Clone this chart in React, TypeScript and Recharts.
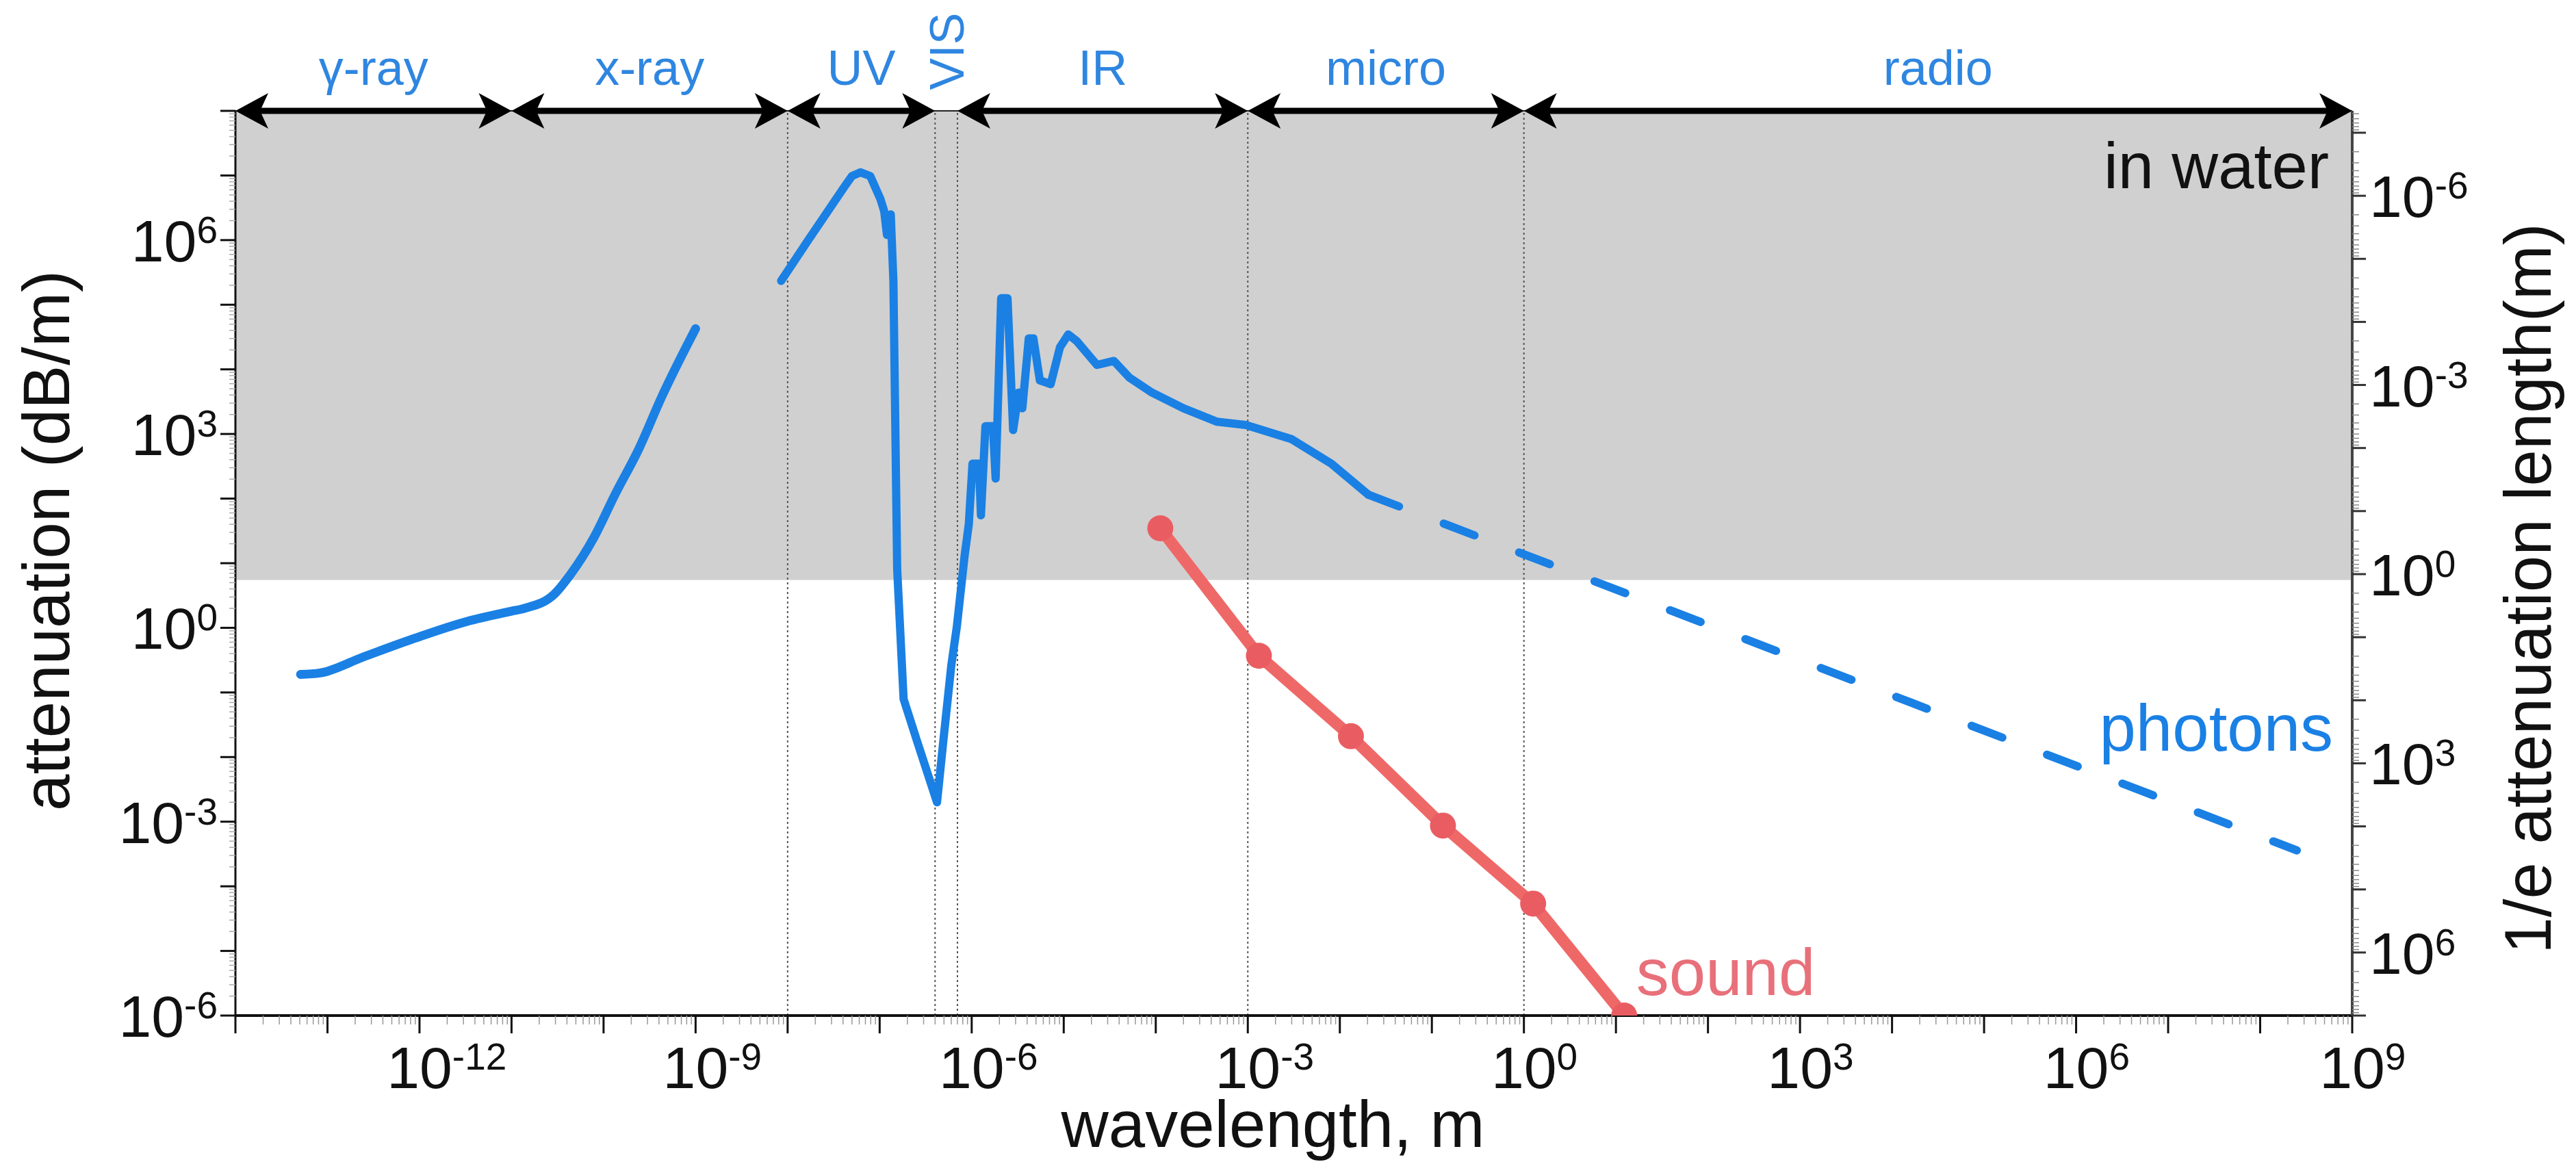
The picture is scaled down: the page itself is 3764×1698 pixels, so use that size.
import React from 'react';
import {
  ComposedChart,
  Line,
  XAxis,
  YAxis,
  ReferenceArea,
  ReferenceLine,
  ReferenceDot,
} from 'recharts';

const W = 3764;
const H = 1698;
const FONT = '"Liberation Sans", Arial, Helvetica, sans-serif';
const BLUE = '#1a80e4';
const LABEL_BLUE = '#2f86e0';
const RED = '#ef6868';

// photon attenuation in water (dB/m) against wavelength (m)
const photonsHighEnergy = [
  { wl: 5.1e-14, att: 0.19 },
  { wl: 8.3e-14, att: 0.2 },
  { wl: 2.4e-13, att: 0.35 },
  { wl: 8.9e-13, att: 0.69 },
  { wl: 3.3e-12, att: 1.26 },
  { wl: 9.8e-12, att: 1.8 },
  { wl: 1.38e-11, att: 2.0 },
  { wl: 2.9e-11, att: 3.3 },
  { wl: 4.4e-11, att: 6.8 },
  { wl: 7.8e-11, att: 24.5 },
  { wl: 1.35e-10, att: 120 },
  { wl: 2.4e-10, att: 575 },
  { wl: 4.3e-10, att: 3800 },
  { wl: 1.0e-9, att: 42700 },
];

const photonsUvToMicro = [
  { wl: 8.5e-9, att: 2.34e5 },
  { wl: 1.66e-8, att: 9.8e5 },
  { wl: 4.2e-8, att: 6.9e6 },
  { wl: 5.0e-8, att: 9.8e6 },
  { wl: 6.2e-8, att: 1.12e7 },
  { wl: 7.9e-8, att: 9.8e6 },
  { wl: 1.02e-7, att: 4.3e6 },
  { wl: 1.12e-7, att: 2.8e6 },
  { wl: 1.2e-7, att: 1.2e6 },
  { wl: 1.32e-7, att: 2.5e6 },
  { wl: 1.41e-7, att: 2.34e5 },
  { wl: 1.55e-7, att: 8.1 },
  { wl: 1.82e-7, att: 0.079 },
  { wl: 2.57e-7, att: 0.017 },
  { wl: 4.2e-7, att: 0.002 },
  { wl: 4.9e-7, att: 0.017 },
  { wl: 6.0e-7, att: 0.26 },
  { wl: 6.9e-7, att: 1.05 },
  { wl: 8.4e-7, att: 13.5 },
  { wl: 9.3e-7, att: 40 },
  { wl: 1.02e-6, att: 347 },
  { wl: 1.2e-6, att: 347 },
  { wl: 1.26e-6, att: 55 },
  { wl: 1.41e-6, att: 1320 },
  { wl: 1.7e-6, att: 1320 },
  { wl: 1.82e-6, att: 204 },
  { wl: 2.09e-6, att: 1.26e5 },
  { wl: 2.45e-6, att: 1.26e5 },
  { wl: 2.82e-6, att: 1150 },
  { wl: 3.24e-6, att: 4370 },
  { wl: 3.55e-6, att: 2500 },
  { wl: 4.17e-6, att: 30200 },
  { wl: 4.68e-6, att: 30200 },
  { wl: 5.5e-6, att: 6760 },
  { wl: 7.2e-6, att: 5890 },
  { wl: 9.1e-6, att: 21900 },
  { wl: 1.12e-5, att: 34700 },
  { wl: 1.38e-5, att: 27500 },
  { wl: 2.3e-5, att: 11700 },
  { wl: 3.5e-5, att: 13500 },
  { wl: 5.2e-5, att: 7400 },
  { wl: 9.1e-5, att: 4370 },
  { wl: 2.0e-4, att: 2500 },
  { wl: 4.6e-4, att: 1550 },
  { wl: 9.5e-4, att: 1380 },
  { wl: 3.0e-3, att: 830 },
  { wl: 8.1e-3, att: 347 },
  { wl: 2.04e-2, att: 115 },
];

const photonsRadio = [
  { wl: 2.04e-2, att: 115 },
  { wl: 2.5e8, att: 3.6e-4 },
];

const sound = [
  { wl: 1.12e-4, att: 34.7 },
  { wl: 1.32e-3, att: 0.37 },
  { wl: 1.32e-2, att: 0.021 },
  { wl: 0.132, att: 8.7e-4 },
  { wl: 1.26, att: 5.4e-5 },
  { wl: 12.3, att: 1e-6 },
];

// spectral bands along the top
const bandEdges = [1e-14, 1e-11, 1e-8, 4e-7, 7e-7, 1e-3, 1, 1e9];
const bandNames = ['γ-ray', 'x-ray', 'UV', 'VIS', 'IR', 'micro', 'radio'];
const dividers = [1e-8, 4e-7, 7e-7, 1e-3, 1];

// attenuation above this is shorter than 1 m attenuation length
const grayFloor = 5.5;

const xDomain = [1e-14, 1e9];
const yDomain = [1e-6, 1e8];
const rightDomain = [4.5e-8, 1e7];
const labelledX = [-12, -9, -6, -3, 0, 3, 6, 9];
const labelledY = [-6, -3, 0, 3, 6];

function logTicks(lo: number, hi: number) {
  const out: number[] = [];
  for (let e = lo; e <= hi; e++) {
    out.push(Number((10 ** e).toPrecision(6)));
    if (e < hi) for (let m = 2; m <= 9; m++) out.push(Number((m * 10 ** e).toPrecision(6)));
  }
  return out;
}

const xTicks = logTicks(-14, 9);
const yTicks = logTicks(-6, 8);
const rightTicks = logTicks(-8, 7).filter((v) => v >= rightDomain[0] && v <= rightDomain[1]);

function decade(v: number) {
  const lg = Math.log10(v);
  const e = Math.round(lg);
  return { e, major: Math.abs(lg - e) < 1e-6 };
}

const Pow = ({ e }: { e: number }) => (
  <>
    <tspan>10</tspan>
    <tspan dy={-27} fontSize={55}>{String(e)}</tspan>
  </>
);

const XTick = (p: any) => {
  const { x, y } = p;
  const { e, major } = decade(p.payload.value);
  return (
    <g>
      <line x1={x} x2={x} y1={y} y2={y + (major ? 26 : 13)} stroke={major ? '#111' : '#999'} strokeWidth={major ? 3 : 1.5} />
      {major && labelledX.includes(e) && (
        <text x={x - 47.8} y={y + 106} fontSize={86} fontFamily={FONT} fill="#111">
          <Pow e={e} />
        </text>
      )}
    </g>
  );
};

const LeftTick = (p: any) => {
  const { x, y } = p;
  const { e, major } = decade(p.payload.value);
  return (
    <g>
      <line x1={x - (major ? 22 : 9)} x2={x} y1={y} y2={y} stroke={major ? '#111' : '#aaa'} strokeWidth={major ? 3 : 1.5} />
      {major && labelledY.includes(e) && (
        <text x={x - 26} y={y + 31} fontSize={86} fontFamily={FONT} fill="#111" textAnchor="end">
          <Pow e={e} />
        </text>
      )}
    </g>
  );
};

const RightTick = (p: any) => {
  const { x, y } = p;
  const { e, major } = decade(p.payload.value);
  return (
    <g>
      <line x1={x} x2={x + (major ? 20 : 10)} y1={y} y2={y} stroke={major ? '#333' : '#888'} strokeWidth={major ? 3 : 1.5} />
      {major && labelledY.includes(e) && (
        <text x={x + 25} y={y + 31} fontSize={86} fontFamily={FONT} fill="#111">
          <Pow e={e} />
        </text>
      )}
    </g>
  );
};

function head(tx: number, ty: number, dir: number) {
  return `M${tx},${ty} L${tx - 48 * dir},${ty - 26} L${tx - 36 * dir},${ty} L${tx - 48 * dir},${ty + 26} Z`;
}

const bandShape = (name: string) => (p: any) => {
  const { x1, x2, y1 } = p;
  const mid = (x1 + x2) / 2;
  if (name === 'VIS') {
    return (
      <text
        x={0}
        y={0}
        transform={`translate(${mid + 25},${y1 - 87}) rotate(-90)`}
        textAnchor="middle"
        fontSize={70}
        fontFamily={FONT}
        fill={LABEL_BLUE}
      >
        {name}
      </text>
    );
  }
  return (
    <g>
      <line x1={x1 + 30} x2={x2 - 30} y1={y1} y2={y1} stroke="#000" strokeWidth={9} />
      <path d={head(x1, y1, -1)} fill="#000" />
      <path d={head(x2, y1, 1)} fill="#000" />
      <text x={mid} y={y1 - 38} textAnchor="middle" fontSize={72} fontFamily={FONT} fill={LABEL_BLUE}>
        {name}
      </text>
    </g>
  );
};

const note = (text: string, color: string, anchor: 'start' | 'end', size: number) => (p: any) => (
  <text x={p.cx} y={p.cy} textAnchor={anchor} fontSize={size} fontFamily={FONT} fill={color}>
    {text}
  </text>
);

export default function App() {
  return (
    <div style={{ position: 'absolute', left: 0, top: 0, width: W, height: H, background: '#fff' }}>
      <ComposedChart width={W} height={H} margin={{ top: 162, right: 127, bottom: 64, left: 144 }}>
        <XAxis
          dataKey="wl"
          type="number"
          scale="log"
          domain={xDomain}
          allowDataOverflow
          ticks={xTicks}
          interval={0}
          tickSize={0}
          tickMargin={0}
          tickLine={false}
          tick={XTick}
          height={150}
          axisLine={{ stroke: '#111', strokeWidth: 4 }}
        />
        <YAxis
          yAxisId="left"
          type="number"
          scale="log"
          domain={yDomain}
          allowDataOverflow
          ticks={yTicks}
          interval={0}
          tickSize={0}
          tickMargin={0}
          tickLine={false}
          tick={LeftTick}
          width={200}
          axisLine={{ stroke: '#111', strokeWidth: 3 }}
        />
        <YAxis
          yAxisId="right"
          orientation="right"
          type="number"
          scale="log"
          reversed
          domain={rightDomain}
          allowDataOverflow
          ticks={rightTicks}
          interval={0}
          tickSize={0}
          tickMargin={0}
          tickLine={false}
          tick={RightTick}
          width={200}
          axisLine={{ stroke: '#444', strokeWidth: 4 }}
        />

        <ReferenceArea yAxisId="left" y1={grayFloor} y2={yDomain[1]} fill="#d0d0d0" fillOpacity={1} stroke="none" ifOverflow="visible" />
        {dividers.map((d) => (
          <ReferenceLine key={d} yAxisId="left" x={d} stroke="#555" strokeWidth={2} strokeDasharray="3 4" />
        ))}
        <ReferenceLine yAxisId="left" y={yDomain[1]} stroke="#222" strokeWidth={2} ifOverflow="visible" />

        <Line data={photonsHighEnergy} yAxisId="left" dataKey="att" type="monotone" stroke={BLUE} strokeWidth={13} strokeLinecap="round" dot={false} activeDot={false} isAnimationActive={false} />
        <Line data={photonsUvToMicro} yAxisId="left" dataKey="att" type="linear" stroke={BLUE} strokeWidth={12} strokeLinejoin="round" strokeLinecap="round" dot={false} activeDot={false} isAnimationActive={false} />
        <Line data={photonsRadio} yAxisId="left" dataKey="att" type="linear" stroke={BLUE} strokeWidth={12} strokeLinecap="round" strokeDasharray="48 70" dot={false} activeDot={false} isAnimationActive={false} />
        <Line data={sound} yAxisId="left" dataKey="att" type="linear" stroke={RED} strokeWidth={17} dot={{ r: 19, fill: '#e95d62', stroke: 'none' }} activeDot={false} isAnimationActive={false} />

        {bandNames.map((name, i) => (
          <ReferenceLine
            key={name}
            yAxisId="left"
            segment={[
              { x: bandEdges[i], y: yDomain[1] },
              { x: bandEdges[i + 1], y: yDomain[1] },
            ]}
            ifOverflow="visible"
            shape={bandShape(name)}
          />
        ))}

        <ReferenceDot yAxisId="left" x={5.6e8} y={6.3e6} r={0} ifOverflow="visible" shape={note('in water', '#111', 'end', 94)} />
        <ReferenceDot yAxisId="left" x={6.2e8} y={0.0126} r={0} ifOverflow="visible" shape={note('photons', BLUE, 'end', 96)} />
        <ReferenceDot yAxisId="left" x={16.6} y={2.1e-6} r={0} ifOverflow="visible" shape={note('sound', '#e8707a', 'start', 96)} />
      </ComposedChart>
      <svg width={W} height={H} style={{ position: 'absolute', left: 0, top: 0, pointerEvents: 'none' }}>
        <text transform="rotate(-90)" x={-790} y={101} textAnchor="middle" fontSize={96} fontFamily={FONT} fill="#111">
          attenuation (dB/m)
        </text>
        <text transform="rotate(-90)" x={-860} y={3727} textAnchor="middle" fontSize={96} fontFamily={FONT} fill="#111">
          1/e attenuation length(m)
        </text>
        <text x={1860} y={1676} textAnchor="middle" fontSize={96} fontFamily={FONT} fill="#111">
          wavelength, m
        </text>
      </svg>
    </div>
  );
}
